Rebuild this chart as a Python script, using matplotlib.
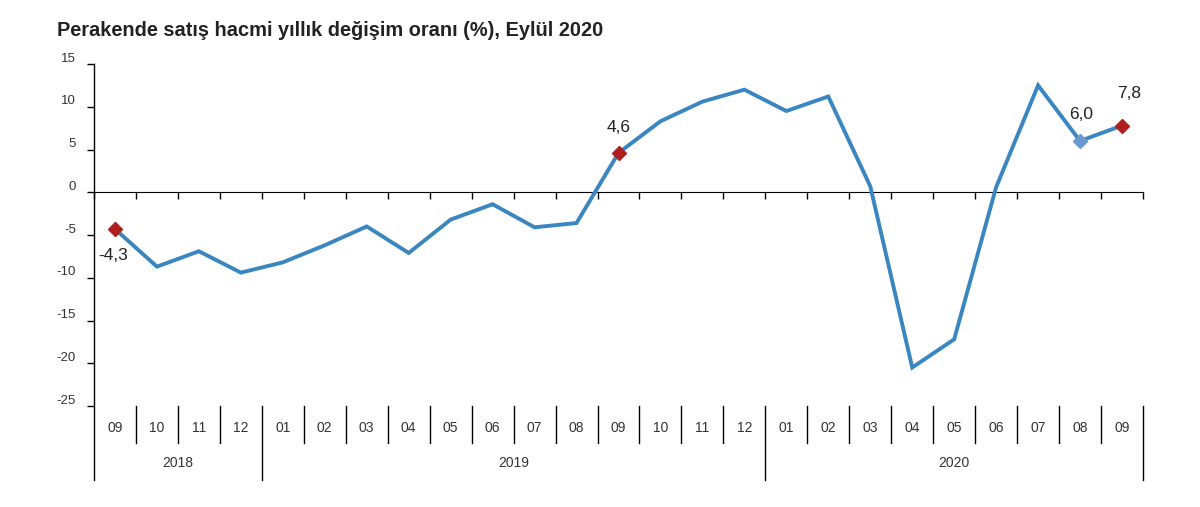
import matplotlib
matplotlib.use("Agg")
import matplotlib.pyplot as plt
import matplotlib.transforms as mtransforms
import numpy as np

# Veriler
aylar = ["09", "10", "11", "12",
         "01", "02", "03", "04", "05", "06", "07", "08", "09", "10", "11", "12",
         "01", "02", "03", "04", "05", "06", "07", "08", "09"]
yillar = ["2018", "2019", "2020"]
yil_ay_sayisi = [4, 12, 9]
degisim = [-4.3, -8.7, -6.9, -9.4,
           -8.2, -6.2, -4.0, -7.1, -3.2, -1.4, -4.1, -3.6, 4.6, 8.3, 10.6, 12.0,
           9.5, 11.2, 0.7, -20.5, -17.2, 0.6, 12.5, 6.0, 7.8]

# Etiketlenen noktalar: (indeks, metin, renk, offset)
etiketler = [(0, "-4,3", "#b01e1e", (-1, -19)),
             (12, "4,6", "#b01e1e", (0, 18)),
             (23, "6,0", "#6a98d0", (1, 19)),
             (24, "7,8", "#b01e1e", (5, 23))]

plt.rcParams['font.family'] = ['Liberation Sans', 'DejaVu Sans']
plt.rcParams['axes.unicode_minus'] = False

fig = plt.figure(figsize=(12, 5.07), dpi=100)
ax = fig.add_axes([94 / 1200, 1 - 406 / 507, (1143 - 94) / 1200, (406 - 64) / 507])

x = np.arange(len(degisim))
ax.plot(x, degisim, color="#3a86c0", lw=2.8, solid_joinstyle="miter", zorder=3)

for i, metin, renk, off in etiketler:
    ax.plot(x[i], degisim[i], marker="D", ms=7.5, color=renk, mec=renk, zorder=4)
    ax.annotate(metin, (x[i], degisim[i]), xytext=off, textcoords="offset points",
                ha="center", va="center", fontsize=12.5, color="#222222")

ax.set_xlim(-0.5, len(degisim) - 0.5)
ax.set_ylim(-25, 15)
ax.set_yticks(np.arange(-25, 16, 5))

# eksen cizgileri
for s in ["top", "right", "left"]:
    ax.spines[s].set_visible(False)
ax.spines["bottom"].set_position(("data", 0))
ax.spines["bottom"].set_color("black")
ax.set_xticks(np.arange(-0.5, len(degisim), 1))
ax.set_xticklabels([])
ax.tick_params(axis="x", direction="out", length=5, width=1, color="black")
ax.tick_params(axis="y", direction="out", length=5, width=1, color="black",
               labelsize=9.5, labelcolor="#333333", pad=8)
kaydir = mtransforms.ScaledTranslation(0, 5 / 72, fig.dpi_scale_trans)
for lab in ax.get_yticklabels():
    lab.set_transform(lab.get_transform() + kaydir)

tr = ax.get_xaxis_transform()
ay_alt = -0.108
yil_alt = -0.216
ax.plot([-0.5, -0.5], [yil_alt, 1], color="black", lw=1, transform=tr, clip_on=False)

# ay etiketleri ve ayraclar
for i, a in enumerate(aylar):
    ax.text(i, -0.064, a, transform=tr, ha="center", va="center", fontsize=10, color="#333333")

sinirlar = np.cumsum(yil_ay_sayisi) - 0.5
for b in np.arange(0.5, len(aylar) - 0.5, 1):
    alt = yil_alt if b in sinirlar else ay_alt
    ax.plot([b, b], [alt, 0], color="black", lw=1, transform=tr, clip_on=False)
ax.plot([sinirlar[-1]] * 2, [yil_alt, 0], color="black", lw=1, transform=tr, clip_on=False)

# yil etiketleri
bas = -0.5
for y, n in zip(yillar, yil_ay_sayisi):
    ax.text(bas + n / 2, -0.168, y, transform=tr, ha="center", va="center",
            fontsize=10, color="#333333")
    bas += n

fig.text(57 / 1200, 1 - 30 / 507, "Perakende satış hacmi yıllık değişim oranı (%), Eylül 2020",
         ha="left", va="center", fontsize=14.4, fontweight="bold", color="#222222")

fig.savefig("out.png", dpi=100)
